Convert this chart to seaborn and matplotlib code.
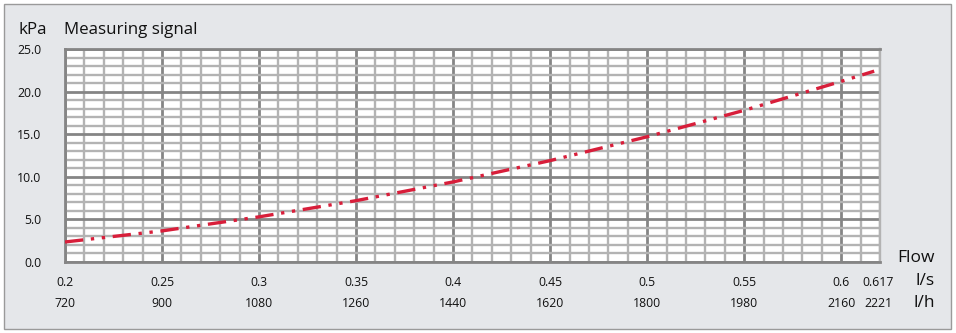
import matplotlib
matplotlib.use("Agg")
import matplotlib.pyplot as plt
import matplotlib.patches as mpatches
from matplotlib.ticker import MultipleLocator
import numpy as np
import pandas as pd
import seaborn as sns

# ---- data ----
flow_ls = [0.20, 0.25, 0.30, 0.35, 0.40, 0.45, 0.50, 0.55, 0.60, 0.617]
signal_kpa = [2.35, 3.65, 5.3, 7.2, 9.4, 11.9, 14.7, 17.8, 21.2, 22.4]
xtick_ls = [0.2, 0.25, 0.3, 0.35, 0.4, 0.45, 0.5, 0.55, 0.6, 0.617]
xtick_ls_labels = ["0.2", "0.25", "0.3", "0.35", "0.4", "0.45", "0.5", "0.55", "0.6", "0.617"]
xtick_lh_labels = ["720", "900", "1080", "1260", "1440", "1620", "1800", "1980", "2160", "2221"]
ytick_vals = [0, 5, 10, 15, 20, 25]
ytick_labels = ["0.0", "5.0", "10.0", "15.0", "20.0", "25.0"]

df = pd.DataFrame({"flow": flow_ls, "signal": signal_kpa})

sns.set_style("white")
plt.rcParams["font.family"] = ["Open Sans", "DejaVu Sans"]

TXT = "#111111"
W, H = 956, 333
fig = plt.figure(figsize=(W / 100, H / 100), dpi=100)
fig.patch.set_facecolor("white")

# outer panel
panel = mpatches.Rectangle((4 / W, 1 - 329 / H), (951 - 4) / W, (329 - 4) / H,
                           transform=fig.transFigure, facecolor="#e5e7ea",
                           edgecolor="#9a9a9a", linewidth=1.0, zorder=-10)
fig.patches.append(panel)

ax = fig.add_axes([65 / W, 1 - 262 / H, (880 - 65) / W, (262 - 49) / H])
ax.set_facecolor("white")

sns.lineplot(data=df, x="flow", y="signal", ax=ax, color="#d81e3a",
             linewidth=2.4, linestyle=(0, (5.5, 2.3, 1, 2.3, 1, 2.3)),
             zorder=5)

ax.set_xlim(0.2, 0.62)
ax.set_ylim(0, 25)

ax.xaxis.set_major_locator(MultipleLocator(0.05))
ax.xaxis.set_minor_locator(MultipleLocator(0.01))
ax.yaxis.set_major_locator(MultipleLocator(5))
ax.yaxis.set_minor_locator(MultipleLocator(1))
ax.grid(which="minor", color="#b3b3b3", linewidth=1.7, zorder=1)
ax.grid(which="major", color="#858585", linewidth=2.0, zorder=2)
ax.set_axisbelow(True)

for s in ["left", "top", "bottom"]:
    ax.spines[s].set_color("#858585")
    ax.spines[s].set_linewidth(2.0)
ax.spines["right"].set_color("#b3b3b3")
ax.spines["right"].set_linewidth(1.7)

ax.tick_params(which="both", length=0)
ax.set_xticklabels([])
ax.set_yticks(ytick_vals)
ax.set_yticklabels(ytick_labels, fontsize=8.8, color=TXT)
ax.tick_params(axis="y", pad=17)
for lab in ax.get_yticklabels():
    lab.set_horizontalalignment("right")
ax.set_xlabel("")
ax.set_ylabel("")

trans = matplotlib.transforms.blended_transform_factory(ax.transData, ax.transAxes)
for x, l1, l2 in zip(xtick_ls, xtick_ls_labels, xtick_lh_labels):
    dx = 0.002 if l1 == "0.617" else 0.0
    ax.text(x + dx, -0.094, l1, transform=trans, ha="center", va="center",
            fontsize=8.8, color=TXT)
    ax.text(x + dx, -0.197, l2, transform=trans, ha="center", va="center",
            fontsize=8.8, color=TXT)

fig.text(935 / W, 1 - 258 / H, "Flow", ha="right", va="center", fontsize=12.5, color=TXT)
fig.text(935 / W, 1 - 281 / H, "l/s", ha="right", va="center", fontsize=12.5, color=TXT)
fig.text(935 / W, 1 - 303 / H, "l/h", ha="right", va="center", fontsize=12.5, color=TXT)
fig.text(19 / W, 1 - 30 / H, "kPa", ha="left", va="center", fontsize=12.2, color=TXT)
fig.text(64 / W, 1 - 30 / H, "Measuring signal", ha="left", va="center", fontsize=12.2, color=TXT)

fig.savefig("out.png", dpi=100, facecolor=fig.get_facecolor())
